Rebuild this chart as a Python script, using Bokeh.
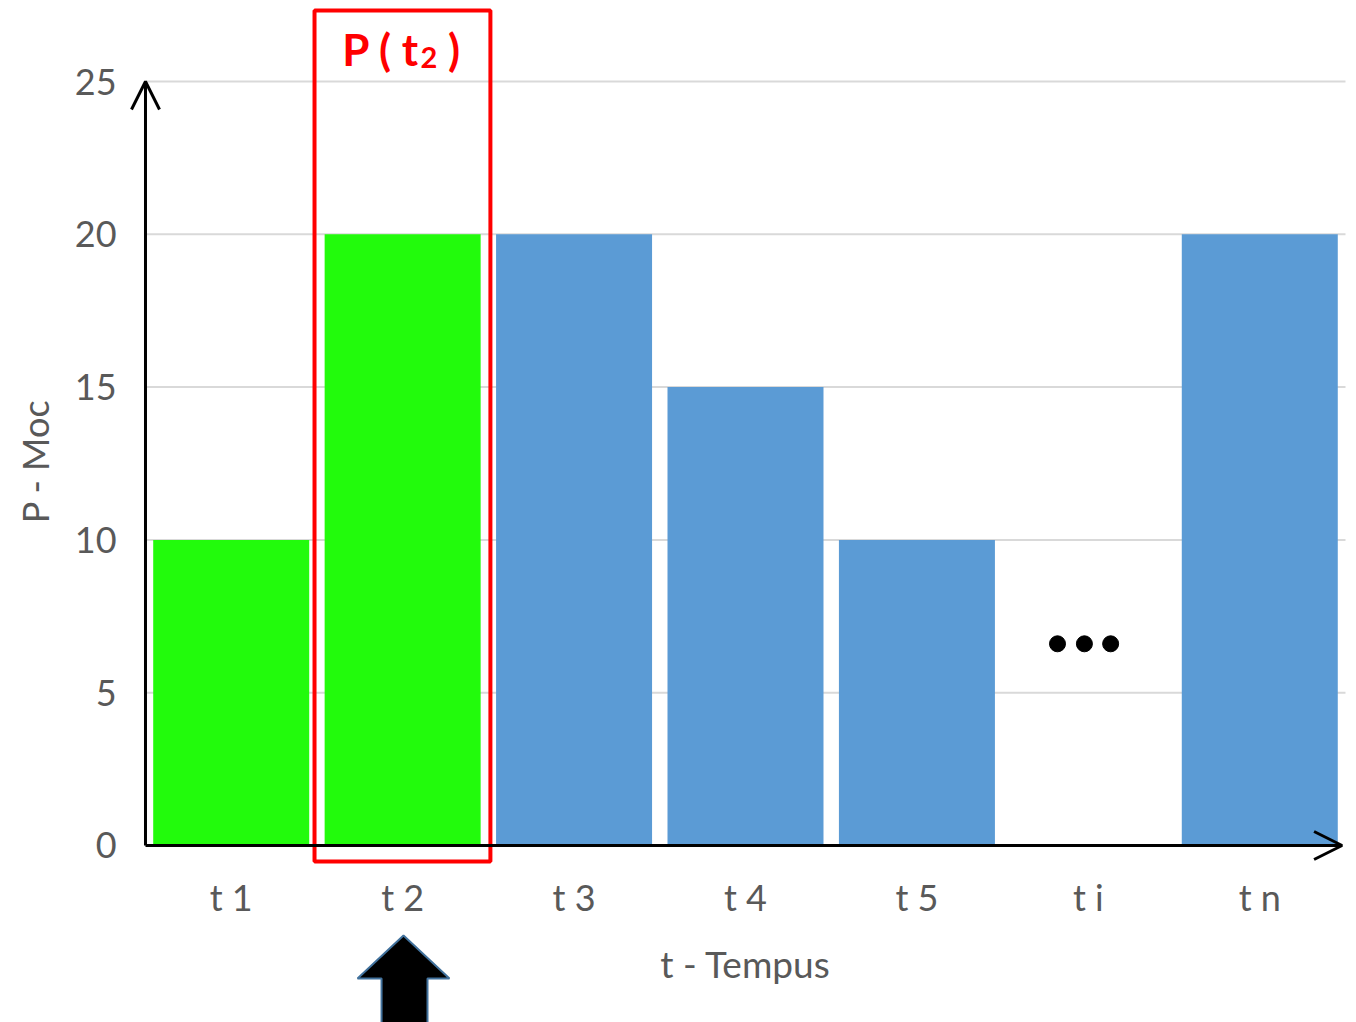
import numpy as np
from math import pi
from bokeh.plotting import figure
from bokeh.models import Range1d, Arrow, OpenHead, ColumnDataSource
from bokeh.core.properties import value
from bokeh.embed import file_html
from bokeh.resources import INLINE

# ---------------- data ----------------
categories = ["t 1", "t 2", "t 3", "t 4", "t 5", "t i", "t n"]
power = [10, 20, 20, 15, 10, np.nan, 20]
bar_colors = ["#22FB0C", "#22FB0C", "#5B9BD5", "#5B9BD5", "#5B9BD5", "#5B9BD5", "#5B9BD5"]
y_ticks = [0, 5, 10, 15, 20, 25]
y_tick_labels = ["0", "5", "10", "15", "20", "25"]
x_title = "t - Tempus"
y_title = "P - Moc"
highlight = "t 2"
ellipsis_level = 6.6

FONT = "Lato"
GREY = "#595959"

# category slots are one unit wide: slot i spans [i, i+1]
x_pos = np.arange(len(categories)) + 0.5
n = len(categories)

W, H = 1356, 1022
p = figure(
    x_range=Range1d(-0.8458, 7.0642),
    y_range=Range1d(-5.792, 27.651),
    frame_width=W, frame_height=H,
    min_border=0,
    x_axis_location=None, y_axis_location=None,
    output_backend="svg", toolbar_location=None,
    outline_line_color=None,
    background_fill_color="white", border_fill_color="white",
)
p.grid.visible = False

# horizontal gridlines
p.segment(x0=[0] * (len(y_ticks) - 1), x1=[n] * (len(y_ticks) - 1),
          y0=y_ticks[1:], y1=y_ticks[1:], line_color="#D9D9D9", line_width=2)

# y tick labels
p.text(x=[-0.169] * len(y_ticks), y=y_ticks, text=y_tick_labels,
       text_align="right", text_baseline="middle",
       text_font=value(FONT), text_font_size="36px", text_color=GREY)

# bars
src = ColumnDataSource(dict(x=x_pos, power=np.array(power, dtype=float), color=bar_colors))
p.vbar(x="x", top="power", bottom=0, width=0.91, fill_color="color", line_color=None, source=src)

# ellipsis dots in the "t i" slot
ti = categories.index("t i") + 0.5
p.scatter(x=[ti - 0.18, ti - 0.023, ti + 0.13], y=[ellipsis_level] * 3, size=16,
          fill_color="black", line_color="black")

# axis arrows
p.add_layout(Arrow(end=OpenHead(size=28, line_width=3, line_color="black"),
                   x_start=0, y_start=0, x_end=0, y_end=y_ticks[-1],
                   line_width=3, line_color="black"))
p.add_layout(Arrow(end=OpenHead(size=28, line_width=3, line_color="black"),
                   x_start=0, y_start=0, x_end=n - 0.02, y_end=0,
                   line_width=3, line_color="black"))

# x tick labels and titles
p.text(x=x_pos, y=[-1.7] * n, text=categories,
       text_align="center", text_baseline="middle",
       text_font=value(FONT), text_font_size="36px", text_color=GREY)
p.text(x=[n / 2], y=[-3.86], text=[x_title],
       text_align="center", text_baseline="middle",
       text_font=value(FONT), text_font_size="37px", text_color=GREY)
p.text(x=[-0.642], y=[12.57], text=[y_title], angle=pi / 2,
       text_align="center", text_baseline="middle",
       text_font=value(FONT), text_font_size="36px", text_color=GREY)

# highlight box around t 2
hi = categories.index(highlight)
p.quad(left=[hi - 0.014], right=[hi + 1.012], bottom=[-0.52], top=[27.32],
       fill_color=None, line_color="#FF0000", line_width=4)

# P ( t2 ) label
p.text(x=[hi + 0.598], y=[26.08], text=["P ( t"], text_align="right", text_baseline="alphabetic",
       text_font=value(FONT), text_font_style="bold", text_font_size="44px", text_color="#FF0000")
p.text(x=[hi + 0.604], y=[25.78], text=["2"], text_align="left", text_baseline="alphabetic",
       text_font=value(FONT), text_font_style="bold", text_font_size="29px", text_color="#FF0000")
p.text(x=[hi + 0.765], y=[26.08], text=[")"], text_align="left", text_baseline="alphabetic",
       text_font=value(FONT), text_font_style="bold", text_font_size="44px", text_color="#FF0000")

# big up arrow below t 2
ax = [1.505, 1.773, 1.645, 1.645, 1.377, 1.377, 1.237]
ay = [-2.945, -4.352, -4.352, -6.0, -6.0, -4.352, -4.352]
p.patch(x=ax, y=ay, fill_color="black", line_color="#41719C", line_width=2)

open("out.html", "w").write(file_html(p, INLINE))
